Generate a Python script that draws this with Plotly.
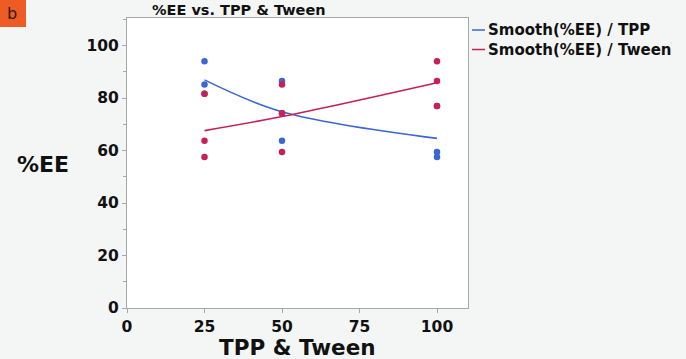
import numpy as np
import plotly.graph_objects as go

# Data
levels = [25, 50, 100]
tpp_x = [25, 25, 25, 50, 50, 50, 100, 100, 100]
tween_x = [25, 25, 25, 50, 50, 50, 100, 100, 100]
tpp_ee = [94.0, 85.2, 81.6, 86.5, 63.7, 74.2, 59.4, 57.5, 77.0]
tween_ee = [81.6, 63.7, 57.5, 85.2, 74.2, 59.4, 94.0, 86.5, 77.0]
x_ticks = [0, 25, 50, 75, 100]
y_ticks = [0, 20, 40, 60, 80, 100]

BLUE = "#3b67d4"
RED = "#c81f55"
FONT = "DejaVu Sans"

def means(xs, ys):
    xs = np.array(xs); ys = np.array(ys)
    return [float(ys[xs == lv].mean()) for lv in levels]

W, H = 686, 359
L, R, T, B = 127, 218, 18, 51
PW, PH = W - L - R, H - T - B

def px(x):
    return (x - L) / PW

def py(y):
    return (H - B - y) / PH

fig = go.Figure()
fig.add_trace(go.Scatter(x=levels, y=means(tpp_x, tpp_ee), mode="lines",
                         line=dict(color=BLUE, width=1.6, shape="spline"),
                         showlegend=False, hoverinfo="skip"))
fig.add_trace(go.Scatter(x=levels, y=means(tween_x, tween_ee), mode="lines",
                         line=dict(color=RED, width=1.6, shape="spline"),
                         showlegend=False, hoverinfo="skip"))
fig.add_trace(go.Scatter(x=tpp_x, y=tpp_ee, mode="markers",
                         marker=dict(color=BLUE, size=6.5), showlegend=False))
fig.add_trace(go.Scatter(x=tween_x, y=tween_ee, mode="markers",
                         marker=dict(color=RED, size=6.5), showlegend=False))

axis_common = dict(showgrid=False, zeroline=False, showline=True, mirror=True,
                   linecolor="#a8a8a8", linewidth=1, ticks="outside",
                   ticklen=4, tickcolor="#a8a8a8",
                   tickfont=dict(family=FONT, size=15.5, color="#111", weight="bold"))

fig.update_layout(
    width=W, height=H,
    margin=dict(l=L, r=R, t=T, b=B),
    paper_bgcolor="#f4f6f6", plot_bgcolor="white",
    xaxis=dict(range=[0, 110], tickvals=x_ticks, **axis_common),
    yaxis=dict(range=[0, 110.5], tickvals=y_ticks,
               minor=dict(ticks="outside", ticklen=3, dtick=10, tickcolor="#a8a8a8"),
               **axis_common),
    showlegend=False,
)

anns = [
    dict(text="%EE vs. TPP & Tween", x=px(239), y=py(10), size=14.5),
    dict(text="TPP & Tween", x=0.5, y=py(347), size=21.5),
    dict(text="%EE", x=px(43), y=py(164), size=22),
]
for a in anns:
    fig.add_annotation(text=a["text"], x=a["x"], y=a["y"], xref="paper", yref="paper",
                       showarrow=False, xanchor="center", yanchor="middle",
                       font=dict(family=FONT, size=a["size"], color="#111", weight="bold"))

# legend
for i, (name, col) in enumerate([("Smooth(%EE) / TPP", BLUE), ("Smooth(%EE) / Tween", RED)]):
    yy = 30 + i * 19.5
    fig.add_shape(type="line", xref="paper", yref="paper",
                  x0=px(472), x1=px(485), y0=py(yy), y1=py(yy),
                  line=dict(color=col, width=1.5))
    fig.add_annotation(text=name, x=px(486), y=py(yy), xref="paper", yref="paper",
                       showarrow=False, xanchor="left", yanchor="middle",
                       font=dict(family=FONT, size=15, color="#111", weight="bold"))

# panel label
fig.add_shape(type="rect", xref="paper", yref="paper",
              x0=px(0), x1=px(26), y0=py(0), y1=py(27),
              fillcolor="#ef5b24", line=dict(width=0), layer="above")
fig.add_annotation(text="b", x=px(12), y=py(13), xref="paper", yref="paper",
                   showarrow=False, xanchor="center", yanchor="middle",
                   font=dict(family=FONT, size=16, color="#2a1a10"))

fig.write_html("out.html", config={"displayModeBar": False},
               post_script="document.body.style.margin='0px';document.body.style.overflow='hidden';")
